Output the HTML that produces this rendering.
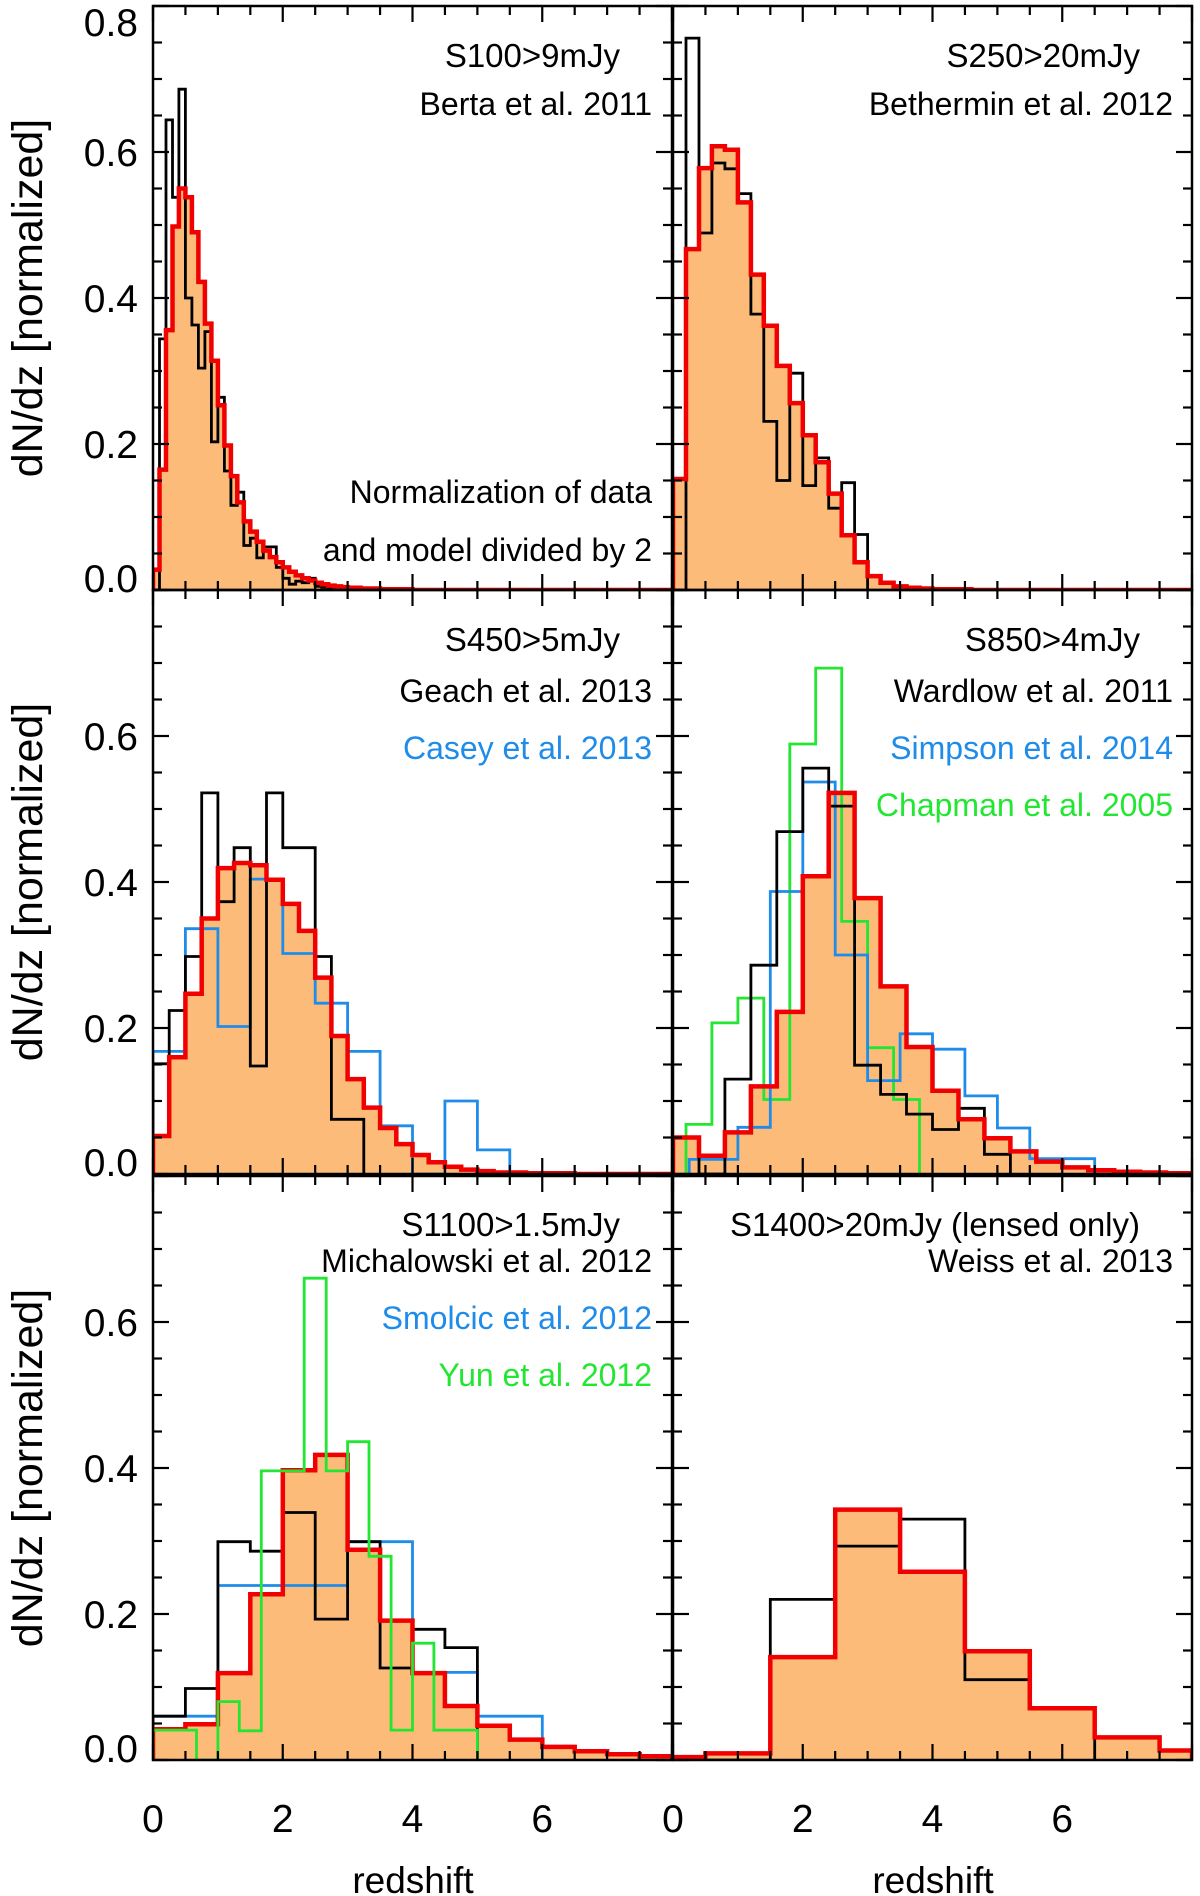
<!DOCTYPE html>
<html><head><meta charset="utf-8"><style>
html,body{margin:0;padding:0;background:#fff;}
svg{display:block;}
text{font-family:"Liberation Sans",Arial,sans-serif;}
</style></head><body>
<svg id="chart" width="1200" height="1896" viewBox="0 0 1200 1896" xmlns="http://www.w3.org/2000/svg"></svg>
<script>
// ---- data ----
const xTickLabels = ["0","2","4","6"];
const yTickLabels = ["0.0","0.2","0.4","0.6","0.8"];
// panel 1 (S100)
const p1ModelStart = 0, p1ModelWidth = 0.1;
const p1Model = [0.028,0.165,0.356,0.498,0.55,0.538,0.49,0.422,0.365,0.314,0.253,0.198,0.156,0.12,0.094,0.08,0.066,0.054,0.045,0.038,0.031,0.025,0.02,0.016,0.013,0.01,0.008,0.006,0.005,0.004,0.003,0.003,0.002,0.002,0.002,0.001,0.001,0.001,0.001,0.001];
const p1DataStart = 0, p1DataWidth = 0.1;
const p1Data = [0,0.344,0.644,0.538,0.686,0.40,0.363,0.304,0.354,0.203,0.264,0.163,0.116,0.134,0.061,0.071,0.044,0.059,0.059,0.031,0.016,0.008,0.012,0.01,0.016,0.005,0.004,0.003,0.004,0.002];
// panel 2 (S250)
const p2ModelStart = 0, p2ModelWidth = 0.2;
const p2Model = [0.152,0.467,0.578,0.608,0.603,0.531,0.432,0.362,0.307,0.256,0.212,0.175,0.132,0.075,0.038,0.019,0.01,0.005,0.003,0.002,0.001,0.001,0.001];
const p2DataStart = 0, p2DataWidth = 0.2;
const p2Data = [0,0.756,0.489,0.585,0.577,0.543,0.378,0.231,0.15,0.297,0.143,0.181,0.112,0.147,0.076];
// panel 3 (S450)
const p3ModelStart = 0, p3ModelWidth = 0.25;
const p3Model = [0.052,0.16,0.247,0.35,0.419,0.426,0.423,0.403,0.37,0.333,0.269,0.189,0.13,0.091,0.063,0.041,0.026,0.016,0.01,0.006,0.004,0.002,0.002,0.001,0.001,0.001];
const p3BlackStart = 0, p3BlackWidth = 0.25;
const p3Black = [0.151,0.224,0.298,0.522,0.373,0.447,0.148,0.522,0.447,0.447,0.298,0.075,0.075];
const p3BlueStart = 0, p3BlueWidth = 0.5;
const p3Blue = [0.168,0.336,0.202,0.404,0.302,0.234,0.168,0.066,0,0.1,0.033];
// panel 4 (S850)
const p4ModelStart = 0, p4ModelWidth = 0.4;
const p4Model = [0.05,0.025,0.057,0.12,0.222,0.408,0.522,0.378,0.257,0.174,0.114,0.075,0.049,0.031,0.017,0.009,0.005,0.003,0.002,0.001];
const p4BlackStart = 0, p4BlackWidth = 0.4;
const p4Black = [0.05,0,0.13,0.286,0.469,0.556,0.504,0.149,0.109,0.082,0.061,0.09,0.027];
const p4BlueEdges = [0.25,1.0,1.5,2.0,2.5,3.0,3.5,4.0,4.5,5.0,5.5,6.0,6.5];
const p4Blue = [0.02,0.064,0.387,0.537,0.3,0.128,0.192,0.171,0.107,0.063,0.021,0.021];
const p4GreenStart = 0.2, p4GreenWidth = 0.4;
const p4Green = [0.068,0.207,0.241,0.102,0.589,0.693,0.346,0.173,0.102];
// panel 5 (S1100)
const p5ModelStart = 0, p5ModelWidth = 0.5;
const p5Model = [0.042,0.049,0.119,0.227,0.397,0.418,0.288,0.191,0.119,0.074,0.047,0.028,0.018,0.012,0.008,0.005];
const p5BlackStart = 0, p5BlackWidth = 0.5;
const p5Black = [0.06,0.098,0.299,0.286,0.339,0.193,0.299,0.126,0.179,0.154];
const p5BlueStart = 0, p5BlueWidth = 1.0;
const p5Blue = [0.06,0.239,0.239,0.299,0.12,0.06];
const p5GreenEdges = [0,0.67,1.0,1.33,1.67,2.33,2.67,3.0,3.33,3.67,4.0,4.33,5.0];
const p5Green = [0.041,0,0.08,0.04,0.396,0.66,0.396,0.436,0.279,0.041,0.16,0.041];
// panel 6 (S1400)
const p6ModelEdges = [0,0.5,1.5,2.5,3.5,4.5,5.5,6.5,7.5,8.0];
const p6Model = [0.004,0.009,0.141,0.343,0.258,0.149,0.071,0.031,0.013];
const p6BlackEdges = [0,1.5,2.5,3.5,4.5,5.5,6.5];
const p6Black = [0,0.22,0.293,0.33,0.11,0.071];

// ---- layout ----
const NS = "http://www.w3.org/2000/svg";
const svg = document.getElementById("chart");
const XL = 153, XM = 673, XR = 1192, W = 519, H = 584;
const TOPS = [6, 590, 1176];
const XMAX = 8, YMAX = 0.8;
const RED = "#f00000", FILL = "#fcbb78", BLUE = "#1e8ce8", GREEN = "#22e632";

function mk(tag, attrs, parent) {
  const e = document.createElementNS(NS, tag);
  for (const k in attrs) e.setAttribute(k, attrs[k]);
  (parent || svg).appendChild(e);
  return e;
}
function uniformEdges(start, width, n) {
  const e = [];
  for (let i = 0; i <= n; i++) e.push(start + i * width);
  return e;
}
function makePanel(px, py, id) {
  const sx = z => px + z * W / XMAX;
  const sy = v => py + H - v * H / YMAX;
  const g = mk("g", {});
  
  
  mk("clipPath", {id: "clip" + id}, g);
  mk("rect", {x: px, y: py, width: W, height: H}, g.lastChild);
  const inner = mk("g", {"clip-path": "url(#clip" + id + ")"}, g);
  return {sx, sy, g, inner, px, py};
}
function stepPath(P, edges, vals, closeBase) {
  let d = "M" + P.sx(edges[0]).toFixed(1) + "," + P.sy(0).toFixed(1);
  for (let i = 0; i < vals.length; i++) {
    const y = P.sy(vals[i]).toFixed(1);
    d += " L" + P.sx(edges[i]).toFixed(1) + "," + y + " L" + P.sx(edges[i + 1]).toFixed(1) + "," + y;
  }
  d += " L" + P.sx(edges[vals.length]).toFixed(1) + "," + P.sy(0).toFixed(1);
  if (closeBase) d += " Z";
  return d;
}
function model(P, edges, vals, name) {
  const e2 = edges.slice(), v2 = vals.slice();
  if (e2[e2.length - 1] < XMAX) { e2.push(XMAX); v2.push(0); }
  const f = mk("path", {d: stepPath(P, e2, v2, true), fill: FILL, stroke: "none"}, P.inner);
  
  
  return () => {
    const l = mk("path", {d: stepPath(P, e2, v2, false), fill: "none", stroke: RED, "stroke-width": 4.5, "stroke-linejoin": "miter"}, P.inner);
    
    
  };
}
function dataLine(P, edges, vals, color, name, w) {
  const l = mk("path", {d: stepPath(P, edges, vals, false), fill: "none", stroke: color, "stroke-width": w || 2.8}, P.inner);
  
  
}
function frameAndTicks(P, id) {
  const {px, py} = P;
  const t = mk("g", {stroke: "#000", "stroke-width": 2.2}, P.g);
  
  
  for (let k = 0; k <= XMAX * 2; k++) {
    const z = k * 0.5, x = P.sx(z), L = (k % 4 === 0) ? 16 : 9;
    mk("line", {x1: x, y1: py + H, x2: x, y2: py + H - L}, t);
    mk("line", {x1: x, y1: py, x2: x, y2: py + L}, t);
  }
  for (let k = 0; k <= 16; k++) {
    const v = k * 0.05, y = P.sy(v), L = (k % 4 === 0) ? 16 : 9;
    mk("line", {x1: px, y1: y, x2: px + L, y2: y}, t);
    mk("line", {x1: px + W, y1: y, x2: px + W - L, y2: y}, t);
  }
  const r = mk("rect", {x: px, y: py, width: W, height: H, fill: "none", stroke: "#000", "stroke-width": 2.5}, P.g);
  
  
}
function label(x, y, txt, color, name, anchor, size) {
  const e = mk("text", {x: x, y: y, fill: color || "#000", "font-size": size || 32, "text-anchor": anchor || "end"});
  e.textContent = txt;
  
  
  return e;
}

// ---- panels ----
const P1 = makePanel(XL, TOPS[0], 1);
const r1 = model(P1, uniformEdges(p1ModelStart, p1ModelWidth, p1Model.length), p1Model, "s100");
dataLine(P1, uniformEdges(p1DataStart, p1DataWidth, p1Data.length), p1Data, "#000", "berta-2011-histogram");
r1(); frameAndTicks(P1, 1);

const P2 = makePanel(XM, TOPS[0], 2);
const r2 = model(P2, uniformEdges(p2ModelStart, p2ModelWidth, p2Model.length), p2Model, "s250");
dataLine(P2, uniformEdges(p2DataStart, p2DataWidth, p2Data.length), p2Data, "#000", "bethermin-2012-histogram");
r2(); frameAndTicks(P2, 2);

const P3 = makePanel(XL, TOPS[1], 3);
const r3 = model(P3, uniformEdges(p3ModelStart, p3ModelWidth, p3Model.length), p3Model, "s450");
dataLine(P3, uniformEdges(p3BlueStart, p3BlueWidth, p3Blue.length), p3Blue, BLUE, "casey-2013-histogram");
dataLine(P3, uniformEdges(p3BlackStart, p3BlackWidth, p3Black.length), p3Black, "#000", "geach-2013-histogram");
r3(); frameAndTicks(P3, 3);

const P4 = makePanel(XM, TOPS[1], 4);
const r4 = model(P4, uniformEdges(p4ModelStart, p4ModelWidth, p4Model.length), p4Model, "s850");
dataLine(P4, uniformEdges(p4GreenStart, p4GreenWidth, p4Green.length), p4Green, GREEN, "chapman-2005-histogram");
dataLine(P4, p4BlueEdges, p4Blue, BLUE, "simpson-2014-histogram");
dataLine(P4, uniformEdges(p4BlackStart, p4BlackWidth, p4Black.length), p4Black, "#000", "wardlow-2011-histogram");
r4(); frameAndTicks(P4, 4);

const P5 = makePanel(XL, TOPS[2], 5);
const r5 = model(P5, uniformEdges(p5ModelStart, p5ModelWidth, p5Model.length), p5Model, "s1100");
dataLine(P5, uniformEdges(p5BlueStart, p5BlueWidth, p5Blue.length), p5Blue, BLUE, "smolcic-2012-histogram");
dataLine(P5, uniformEdges(p5BlackStart, p5BlackWidth, p5Black.length), p5Black, "#000", "michalowski-2012-histogram");
r5();
dataLine(P5, p5GreenEdges, p5Green, GREEN, "yun-2012-histogram");
frameAndTicks(P5, 5);

const P6 = makePanel(XM, TOPS[2], 6);
const r6 = model(P6, p6ModelEdges, p6Model, "s1400");
dataLine(P6, p6BlackEdges, p6Black, "#000", "weiss-2013-histogram");
r6(); frameAndTicks(P6, 6);

// ---- annotations ----
const LX = 652, RX = 1173, LX1 = 620, RX1 = 1140;
label(LX1, 67, "S100>9mJy", "#000", "label-s100", "end", 33);
label(LX, 115, "Berta et al. 2011", "#000", "label-berta");
label(LX, 503, "Normalization of data", "#000", "note-normalization-1");
label(LX, 561, "and model divided by 2", "#000", "note-normalization-2");
label(RX1, 67, "S250>20mJy", "#000", "label-s250", "end", 33);
label(RX, 115, "Bethermin et al. 2012", "#000", "label-bethermin");
label(LX1, 651, "S450>5mJy", "#000", "label-s450", "end", 33);
label(LX, 702, "Geach et al. 2013", "#000", "label-geach");
label(LX, 759, "Casey et al. 2013", BLUE, "label-casey");
label(RX1, 651, "S850>4mJy", "#000", "label-s850", "end", 33);
label(RX, 702, "Wardlow et al. 2011", "#000", "label-wardlow");
label(RX, 759, "Simpson et al. 2014", BLUE, "label-simpson");
label(RX, 816, "Chapman et al. 2005", GREEN, "label-chapman");
label(LX1, 1236, "S1100>1.5mJy", "#000", "label-s1100", "end", 33);
label(LX, 1272, "Michalowski et al. 2012", "#000", "label-michalowski");
label(LX, 1329, "Smolcic et al. 2012", BLUE, "label-smolcic");
label(LX, 1386, "Yun et al. 2012", GREEN, "label-yun");
label(RX1, 1236, "S1400>20mJy (lensed only)", "#000", "label-s1400", "end", 33);
label(RX, 1272, "Weiss et al. 2013", "#000", "label-weiss");

// ---- tick labels ----
[P1, P3, P5].forEach((P, pi) => {
  const n = pi === 0 ? 5 : 4;
  for (let k = 0; k < n; k++) {
    let y = P.sy(k * 0.2) + 14;
    if (k === 0) y -= 12;
    if (k === 4) y += 16;
    label(138, y, yTickLabels[k], "#000", "y-tick-label", "end", 39);
  }
});
[P5, P6].forEach(P => {
  for (let k = 0; k < xTickLabels.length; k++) {
    label(P.sx(k * 2), 1832, xTickLabels[k], "#000", "x-tick-label", "middle", 39);
  }
});
label(413, 1893, "redshift", "#000", "x-axis-title-left", "middle", 37);
label(933, 1893, "redshift", "#000", "x-axis-title-right", "middle", 37);
TOPS.forEach((t, i) => {
  const cy = t + H / 2;
  const e = label(0, 0, "dN/dz [normalized]", "#000", "y-axis-title", "middle", 43);
  e.setAttribute("transform", "translate(42," + cy + ") rotate(-90)");
});
</script>
</body></html>
